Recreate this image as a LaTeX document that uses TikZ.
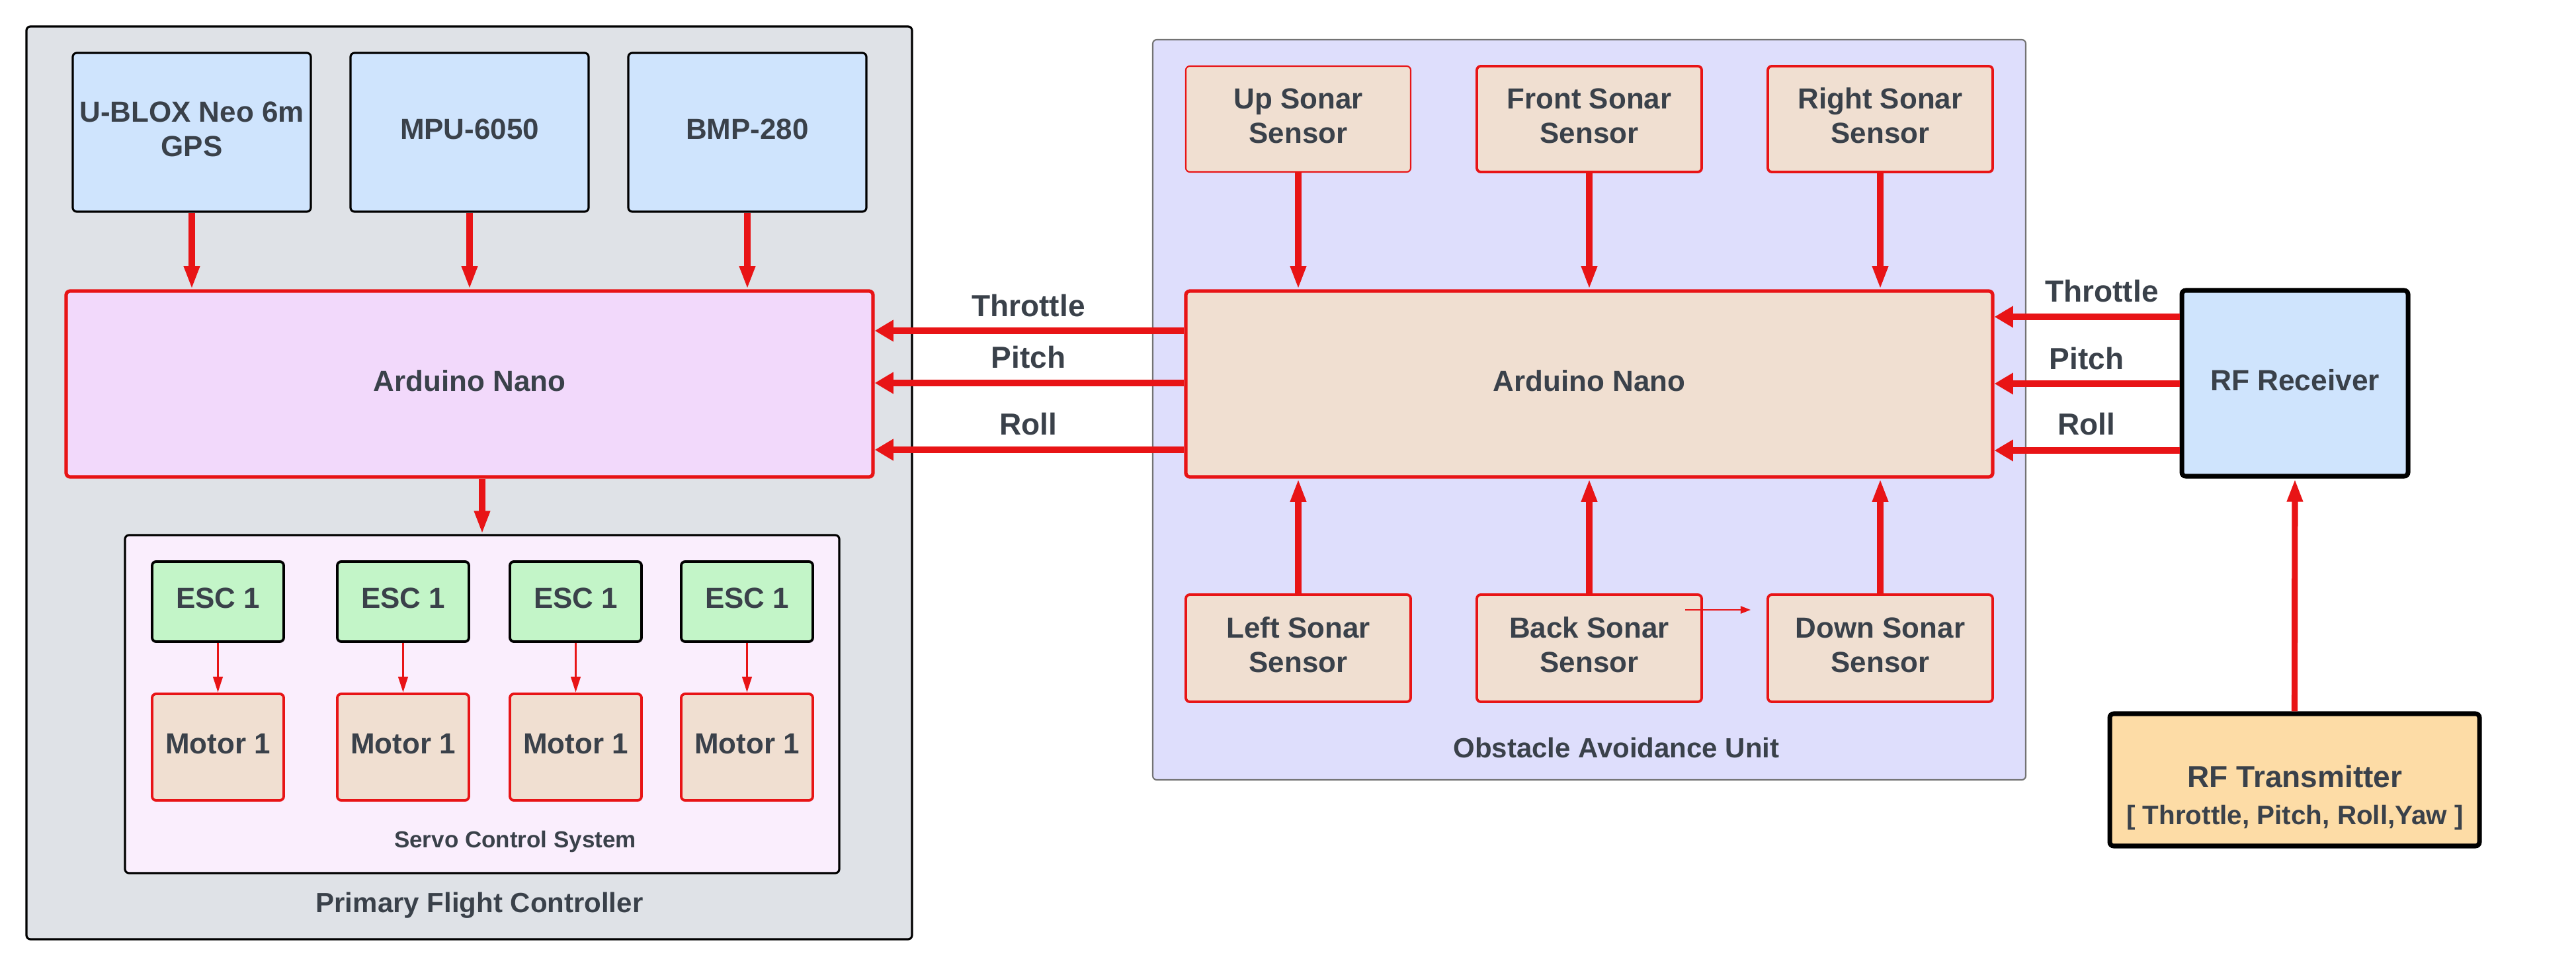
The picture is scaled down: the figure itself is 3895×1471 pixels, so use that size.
\documentclass[tikz,border=0pt]{standalone}
\usepackage{fontspec}
\setmainfont{Liberation Sans}
\usetikzlibrary{arrows.meta}
\definecolor{sigred}{HTML}{E81416}
\definecolor{txt}{HTML}{3A414A}
\definecolor{pfcfill}{HTML}{DFE2E7}
\definecolor{bluefill}{HTML}{CFE4FD}
\definecolor{nanofill}{HTML}{F2D9FB}
\definecolor{servofill}{HTML}{FAEEFD}
\definecolor{escfill}{HTML}{C3F5C8}
\definecolor{tanfill}{HTML}{F0DFD1}
\definecolor{oaufill}{HTML}{DEDEFC}
\definecolor{txfill}{HTML}{FDDCA6}
\begin{document}
\begin{tikzpicture}[x=0.1mm,y=-0.1mm,
  box/.style={rounded corners=0.6mm, align=center, inner sep=0pt, text=txt, text depth=3pt,
    font=\bfseries\fontsize{12.5}{14.8}\selectfont},
  sensorbox/.style={box, draw=black, fill=bluefill, line width=0.9pt},
  nanobox/.style={box, draw=sigred, line width=1.5pt},
  escbox/.style={box, draw=black, fill=escfill, line width=1.1pt},
  tanbox/.style={box, draw=sigred, fill=tanfill, line width=1.1pt},
  groupbox/.style={rounded corners=0.6mm, inner sep=0pt},
  rfbox/.style={box, draw=black, line width=2pt},
  lbl/.style={text=txt, inner sep=0pt, font=\bfseries\fontsize{13.1}{15}\selectfont},
  grouplbl/.style={text=txt, inner sep=0pt, font=\bfseries\fontsize{11.95}{14}\selectfont},
  sig/.style={draw=sigred, line width=2.6pt},
  wide/.style={-{Triangle[length=8pt,width=8.8pt]}},
  narrow/.style={-{Triangle[length=10pt,width=6.3pt]}},
  small/.style={draw=sigred, line width=1.1pt, -{Triangle[length=6.8pt,width=4pt]}},
  tinyarrow/.style={draw=sigred, line width=0.55pt, -{Triangle[length=4.3pt,width=3.2pt]}}
]
\useasboundingbox (0,0) rectangle (3895,1471);
\fill[white] (0,0) rectangle (3895,1471);

% ---------- Primary Flight Controller ----------
\node[groupbox, draw=black, fill=pfcfill, line width=0.9pt, minimum width=133.9mm, minimum height=138mm] (pfc) at (709.5,730) {};
\node[sensorbox, minimum width=36mm, minimum height=24mm] (gps) at (290,200) {U-BLOX Neo 6m\\GPS};
\node[sensorbox, minimum width=36mm, minimum height=24mm] (mpu) at (710,200) {MPU-6050};
\node[sensorbox, minimum width=36mm, minimum height=24mm] (bmp) at (1130,200) {BMP-280};
\node[nanobox, fill=nanofill, minimum width=122mm, minimum height=28.1mm] (nano1) at (710,580.5) {Arduino Nano};

\node[groupbox, draw=black, fill=servofill, line width=0.9pt, minimum width=108mm, minimum height=51.1mm] (servo) at (729,1064.5) {};
\foreach \i/\x in {1/329.5,2/609.5,3/870.5,4/1129.5}{
  \node[escbox, minimum width=19.9mm, minimum height=12.1mm] (esc\i) at (\x,909.5) {ESC 1};
  \node[tanbox, minimum width=19.9mm, minimum height=16.1mm] (mot\i) at (\x,1129.5) {Motor 1};
  \draw[small] (esc\i.south) -- (mot\i.north);
}
\node[text=txt, inner sep=0pt, font=\bfseries\fontsize{9.96}{12}\selectfont] (servolbl) at (779,1272) {Servo Control System};
\node[grouplbl] (pfclbl) at (725,1369) {Primary Flight Controller};

\draw[sig, narrow] (gps.south) -- (gps.south |- nano1.north);
\draw[sig, narrow] (mpu.south) -- (mpu.south |- nano1.north);
\draw[sig, narrow] (bmp.south) -- (bmp.south |- nano1.north);
\draw[sig, narrow] (servo.north |- nano1.south) -- (servo.north);

% ---------- Obstacle Avoidance Unit ----------
\node[groupbox, draw=black!55, fill=oaufill, line width=0.6pt, minimum width=132mm, minimum height=111.9mm] (oau) at (2403,619.5) {};
\node[tanbox, line width=0.6pt, minimum width=34mm, minimum height=16mm] (up) at (1963,180) {Up Sonar\\Sensor};
\node[tanbox, minimum width=34mm, minimum height=16mm] (front) at (2403,180) {Front Sonar\\Sensor};
\node[tanbox, minimum width=34mm, minimum height=16mm] (right) at (2843,180) {Right Sonar\\Sensor};
\node[nanobox, fill=tanfill, minimum width=122mm, minimum height=28.1mm] (nano2) at (2403,580.5) {Arduino Nano};
\node[tanbox, minimum width=34mm, minimum height=16.2mm] (left) at (1963,980) {Left Sonar\\Sensor};
\node[tanbox, minimum width=34mm, minimum height=16.2mm] (back) at (2403,980) {Back Sonar\\Sensor};
\node[tanbox, minimum width=34mm, minimum height=16.2mm] (down) at (2843,980) {Down Sonar\\Sensor};
\node[grouplbl] (oaulbl) at (2444,1130) {Obstacle Avoidance Unit};

\foreach \s in {up,front,right}{
  \draw[sig, narrow] (\s.south) -- (\s.south |- nano2.north);
}
\foreach \s in {left,back,down}{
  \draw[sig, narrow] (\s.north) -- (\s.north |- nano2.south);
}
\coordinate (t1) at (2548,922);
\coordinate (t2) at (2647,922);
\draw[tinyarrow] (t1) -- (t2);

% ---------- Nano2 -> Nano1 ----------
\draw[sig, wide] (nano2.west |- 0,500) -- (nano1.east |- 0,500);
\draw[sig, wide] (nano2.west |- 0,579) -- (nano1.east |- 0,579);
\draw[sig, wide] (nano2.west |- 0,680) -- (nano1.east |- 0,680);
\node[lbl] (lthr) at (1555,462) {Throttle};
\node[lbl] (lpit) at (1555,540) {Pitch};
\node[lbl] (lrol) at (1555,641) {Roll};

% ---------- RF ----------
\node[rfbox, fill=bluefill, minimum width=34.2mm, minimum height=28.1mm, font=\bfseries\fontsize{12.6}{15}\selectfont] (rx) at (3470,579.5) {RF Receiver};
\node[rfbox, fill=txfill, minimum width=55.9mm, minimum height=20mm] (tx) at (3469.5,1179) {};
\node[text=txt, inner sep=0pt, align=center, font=\bfseries\fontsize{13.1}{16.2}\selectfont] (txlbl) at (3470,1206) {RF Transmitter\\{\fontsize{11.5}{14}\selectfont[ Throttle, Pitch, Roll,Yaw ]}};

\draw[sig, wide] (rx.west |- 0,479) -- (nano2.east |- 0,479);
\draw[sig, wide] (rx.west |- 0,580) -- (nano2.east |- 0,580);
\draw[sig, wide] (rx.west |- 0,681) -- (nano2.east |- 0,681);
\node[lbl] (rthr) at (3178,440) {Throttle};
\node[lbl] (rpit) at (3155,542) {Pitch};
\node[lbl] (rrol) at (3155,641) {Roll};

\draw[sig, narrow] (tx.north) -- (rx.south);
\end{tikzpicture}
\end{document}
